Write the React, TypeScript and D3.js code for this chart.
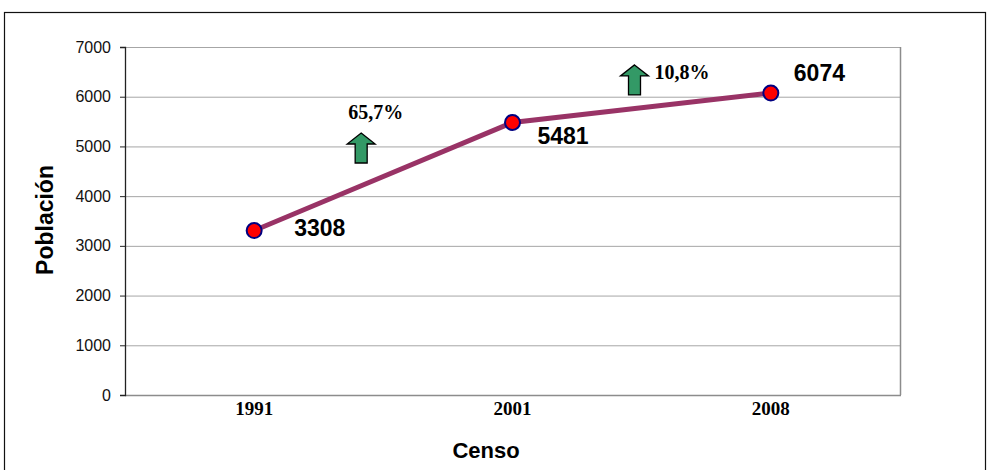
import React, { useEffect, useRef } from "react";
import * as d3 from "d3";

const censos = ["1991", "2001", "2008"];
const poblacion = [3308, 5481, 6074];
const crecimiento = ["65,7%", "10,8%"];
const yTicks = [0, 1000, 2000, 3000, 4000, 5000, 6000, 7000];

function drawChart(el: SVGSVGElement) {
  const svg = d3.select(el);
  svg.selectAll("*").remove();

  const W = 987, H = 470;
  const margin = { top: 47, right: 87, bottom: 75, left: 125 };
  const width = 900 - margin.left;
  const height = 395 - margin.top;
  const sans = "Liberation Sans, Arial, sans-serif";
  const serif = "Liberation Serif, Times New Roman, serif";

  // outer frame
  svg
    .append("rect")
    .attr("x", 4.5)
    .attr("y", 12.5)
    .attr("width", W - 6)
    .attr("height", H + 10)
    .attr("fill", "white")
    .attr("stroke", "#111")
    .attr("stroke-width", 1.2);

  const g = svg.append("g").attr("transform", `translate(${margin.left},${margin.top})`);

  const x = d3.scaleBand().domain(censos).range([0, width]);
  const y = d3.scaleLinear().domain([0, 7000]).range([height, 0]);

  // grid
  g.selectAll(".grid")
    .data(yTicks.slice(1))
    .enter()
    .append("line")
    .attr("x1", 0)
    .attr("x2", width)
    .attr("y1", (d) => y(d) + 0.5)
    .attr("y2", (d) => y(d) + 0.5)
    .attr("stroke", "#a6a6a6")
    .attr("stroke-width", 1);

  // plot border right & bottom
  g.append("line")
    .attr("x1", width + 0.5).attr("x2", width + 0.5)
    .attr("y1", 0).attr("y2", height)
    .attr("stroke", "#8c8c8c").attr("stroke-width", 1.5);
  g.append("line")
    .attr("x1", 0).attr("x2", width + 1)
    .attr("y1", height + 0.5).attr("y2", height + 0.5)
    .attr("stroke", "#8c8c8c").attr("stroke-width", 1.5);

  // y axis
  const yAxis = g
    .append("g")
    .call(d3.axisLeft(y).tickValues(yTicks).tickSize(5).tickPadding(9).tickFormat(d3.format("d")));
  yAxis.attr("font-size", null).attr("font-family", null);
  yAxis.select(".domain").attr("stroke", "#222").attr("stroke-width", 1.3);
  yAxis.selectAll(".tick line").attr("stroke", "#222");
  yAxis
    .selectAll("text")
    .attr("font-family", sans)
    .attr("font-size", 16)
    .attr("fill", "#111");

  // x labels
  g.selectAll(".xl")
    .data(censos)
    .enter()
    .append("text")
    .attr("x", (d) => x(d)! + x.bandwidth() / 2)
    .attr("y", height + 20)
    .attr("text-anchor", "middle")
    .attr("font-family", serif)
    .attr("font-weight", "bold")
    .attr("font-size", 19)
    .text((d) => d);

  // line
  const cx = (i: number) => x(censos[i])! + x.bandwidth() / 2;
  const line = d3
    .line<number>()
    .x((_, i) => cx(i))
    .y((d) => y(d));
  g.append("path")
    .datum(poblacion)
    .attr("d", line)
    .attr("fill", "none")
    .attr("stroke", "#993366")
    .attr("stroke-width", 5);

  g.selectAll(".pt")
    .data(poblacion)
    .enter()
    .append("circle")
    .attr("cx", (_, i) => cx(i))
    .attr("cy", (d) => y(d))
    .attr("r", 7.5)
    .attr("fill", "#ff0000")
    .attr("stroke", "#000080")
    .attr("stroke-width", 2);

  // value labels
  const labelOffsets = [
    { dx: 40, dy: 5 },
    { dx: 25, dy: 21 },
    { dx: 23, dy: -12 },
  ];
  g.selectAll(".vl")
    .data(poblacion)
    .enter()
    .append("text")
    .attr("x", (_, i) => cx(i) + labelOffsets[i].dx)
    .attr("y", (d, i) => y(d) + labelOffsets[i].dy)
    .attr("font-family", sans)
    .attr("font-weight", "bold")
    .attr("font-size", 23)
    .text((d) => d);

  // growth arrows
  const arrowPos = [
    { xc: cx(0) + 107, top: y(5270), tx: -13, ty: -14 },
    { xc: cx(1) + 122, top: y(6640), tx: 20, ty: 14 },
  ];
  arrowPos.forEach((a, i) => {
    const hw = 14, sw = 6, hh = 11, h = 30;
    const pts: [number, number][] = [
      [a.xc, a.top],
      [a.xc + hw, a.top + hh],
      [a.xc + sw, a.top + hh],
      [a.xc + sw, a.top + h],
      [a.xc - sw, a.top + h],
      [a.xc - sw, a.top + hh],
      [a.xc - hw, a.top + hh],
    ];
    g.append("path")
      .attr("d", "M" + pts.map((p) => p.join(",")).join("L") + "Z")
      .attr("fill", "#339966")
      .attr("stroke", "#000")
      .attr("stroke-width", 1.3)
      .attr("stroke-linejoin", "miter");
    g.append("text")
      .attr("x", a.xc + a.tx)
      .attr("y", a.top + a.ty)
      .attr("font-family", serif)
      .attr("font-weight", "bold")
      .attr("font-size", 20)
      .text(crecimiento[i]);
  });

  // axis titles
  svg
    .append("text")
    .attr("transform", `translate(53,${margin.top + height / 2 - 1}) rotate(-90)`)
    .attr("text-anchor", "middle")
    .attr("font-family", sans)
    .attr("font-weight", "bold")
    .attr("font-size", 23)
    .text("Población");

  svg
    .append("text")
    .attr("x", 486)
    .attr("y", 458)
    .attr("text-anchor", "middle")
    .attr("font-family", sans)
    .attr("font-weight", "bold")
    .attr("font-size", 22)
    .text("Censo");
}

export default function App() {
  const ref = useRef<SVGSVGElement>(null);
  useEffect(() => {
    if (ref.current) drawChart(ref.current);
  }, []);
  return (
    <div style={{ position: "absolute", left: 0, top: 0 }}>
      <svg ref={ref} width={987} height={470} style={{ display: "block", background: "white" }} />
    </div>
  );
}
